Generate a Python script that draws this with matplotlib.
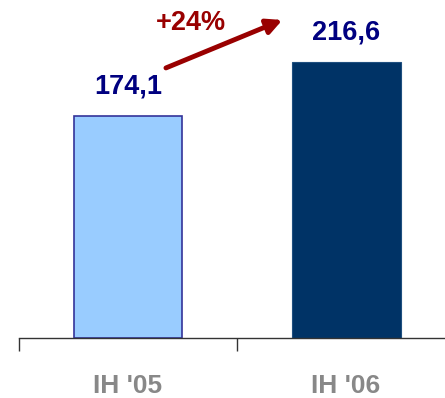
import matplotlib
matplotlib.use("Agg")
import matplotlib.pyplot as plt

categories = ["IH '05", "IH '06"]
values = [174.1, 216.6]
value_labels = ["174,1", "216,6"]
growth_label = "+24%"

plt.rcParams['font.family'] = ['Liberation Sans', 'DejaVu Sans']

fig = plt.figure(figsize=(4.45, 3.98), dpi=100)
ax = fig.add_axes([19/445, (398-337.5)/398, 1-19/445, 337.5/398])

x = [0, 1]
ax.bar(x[0], values[0], width=0.495, color='#99CCFF', edgecolor='#333399', linewidth=1.2)
ax.bar(x[1], values[1], width=0.5, color='#003366', edgecolor='#1F4F7F', linewidth=0.8)

ax.set_xlim(-0.5, 1.454)
ax.set_ylim(0, 265.3)

for xi, v, lab in zip(x, values, value_labels):
    ax.annotate(lab, (xi, v), xytext=(0, 12), textcoords='offset points',
                ha='center', va='bottom', fontsize=19.5, fontweight='bold', color='#000080')

# growth arrow
ax.annotate('', xy=(0.708, values[1] + 33), xytext=(0.174, values[0] + 37.8),
            arrowprops=dict(arrowstyle='-|>,head_length=0.9,head_width=0.45', color='#990000', lw=3.5,
                            shrinkA=0, shrinkB=0))
ax.text(0.289, values[1] + 30.6, growth_label, ha='center', va='center', fontsize=19.5,
        fontweight='bold', color='#990000')

for s in ['top', 'right', 'left']:
    ax.spines[s].set_visible(False)
ax.spines['bottom'].set_color('#333333')
ax.spines['bottom'].set_linewidth(1.0)
ax.set_yticks([])
ax.set_xticks([-0.5, 0.5], minor=False)
ax.set_xticklabels([])
ax.tick_params(axis='x', which='major', length=9, width=1.0, color='#333333', direction='out')
ax.set_xticks(x, minor=True)
ax.set_xticklabels(categories, minor=True)
ax.tick_params(axis='x', which='minor', length=0, pad=26, labelsize=19, labelcolor='#888888')
for t in ax.get_xticklabels(minor=True):
    t.set_fontweight('bold')

fig.savefig('out.png', dpi=100)
